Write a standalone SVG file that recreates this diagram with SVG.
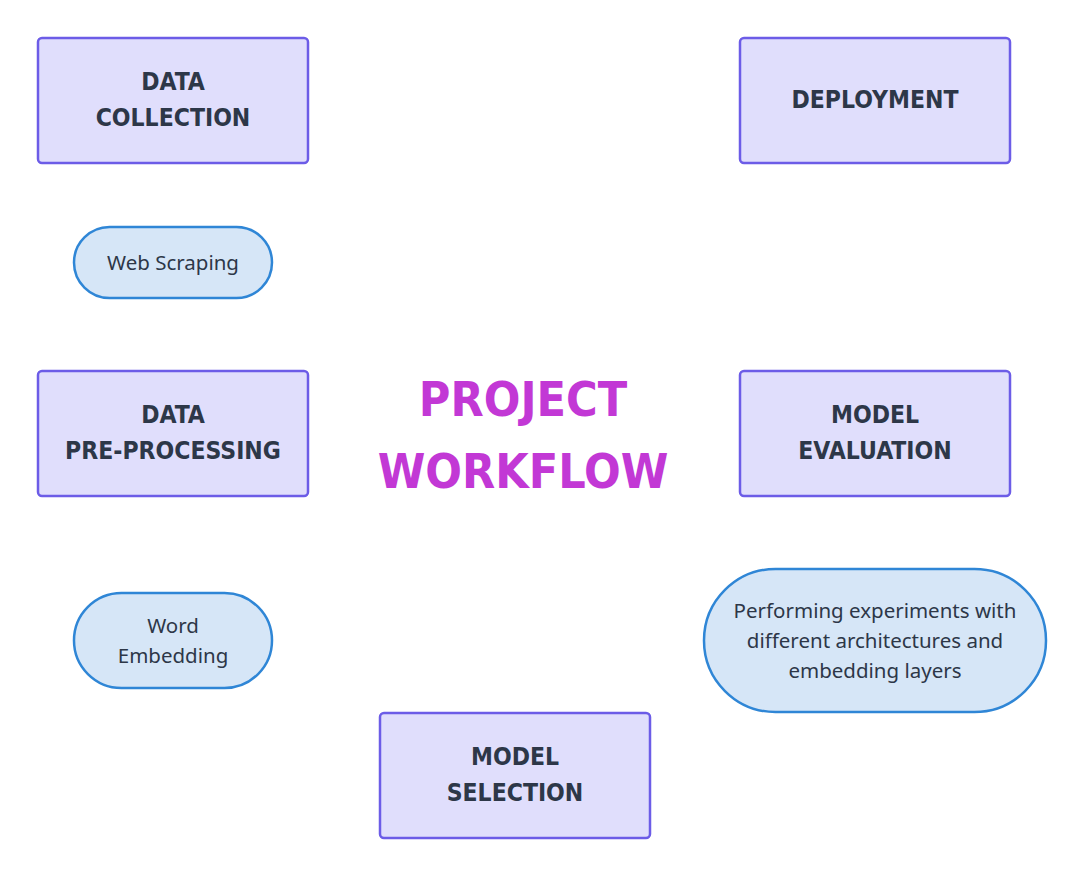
<svg xmlns="http://www.w3.org/2000/svg" width="1083" height="876" viewBox="0 0 1083 876">
<style>
.box{fill:#e0defc;stroke:#6c5ce7;stroke-width:2.5}
.pill{fill:#d6e6f7;stroke:#2f86d6;stroke-width:2.5}
.bt{font-family:"DejaVu Sans Condensed","DejaVu Sans",sans-serif;font-weight:bold;font-size:24.5px;fill:#2d3748;text-anchor:middle}
.pt{font-family:"Noto Sans","Open Sans",sans-serif;font-size:20.5px;fill:#2d3748;text-anchor:middle}
.title{font-family:"DejaVu Sans Condensed","DejaVu Sans",sans-serif;font-weight:bold;font-size:48px;fill:#c238d5;text-anchor:middle}
</style>
<rect width="1083" height="876" fill="#ffffff"/>
<g id="connectors"></g>
<g id="title"><text class="title" x="523" y="416">PROJECT</text><text class="title" x="523" y="488">WORKFLOW</text></g>
<g id="data-collection"><rect class="box" x="38" y="38" width="270" height="125" rx="4"/><text class="bt" x="173" y="90">DATA</text><text class="bt" x="173" y="126">COLLECTION</text></g>
<g id="deployment"><rect class="box" x="740" y="38" width="270" height="125" rx="4"/><text class="bt" x="875" y="108">DEPLOYMENT</text></g>
<g id="web-scraping"><rect class="pill" x="74" y="227" width="198" height="71" rx="35.5"/><text class="pt" x="173" y="270">Web Scraping</text></g>
<g id="data-preprocessing"><rect class="box" x="38" y="371" width="270" height="125" rx="4"/><text class="bt" x="173" y="423">DATA</text><text class="bt" x="173" y="459">PRE-PROCESSING</text></g>
<g id="model-evaluation"><rect class="box" x="740" y="371" width="270" height="125" rx="4"/><text class="bt" x="875" y="423">MODEL</text><text class="bt" x="875" y="459">EVALUATION</text></g>
<g id="word-embedding"><rect class="pill" x="74" y="593" width="198" height="95" rx="47.5"/><text class="pt" x="173" y="633">Word</text><text class="pt" x="173" y="663">Embedding</text></g>
<g id="experiments"><rect class="pill" x="704" y="569" width="342" height="143" rx="71.5"/><text class="pt" x="875" y="618">Performing experiments with</text><text class="pt" x="875" y="648">different architectures and</text><text class="pt" x="875" y="678">embedding layers</text></g>
<g id="model-selection"><rect class="box" x="380" y="713" width="270" height="125" rx="4"/><text class="bt" x="515" y="765">MODEL</text><text class="bt" x="515" y="801">SELECTION</text></g>
</svg>
